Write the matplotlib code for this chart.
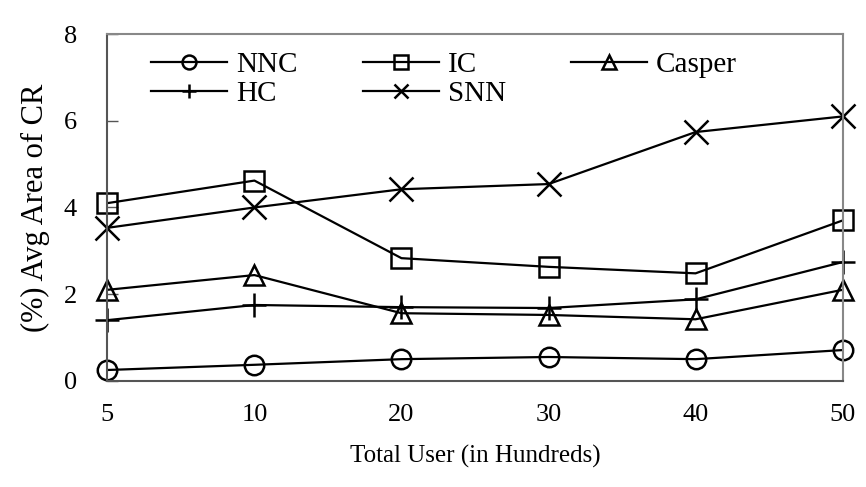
import numpy as np
import matplotlib
matplotlib.use("Agg")
import matplotlib.pyplot as plt

plt.rcParams['font.family'] = ['Liberation Serif', 'DejaVu Serif']

# x categories (hundreds of users)
users = ['5', '10', '20', '30', '40', '50']

nnc = [0.25, 0.37, 0.50, 0.55, 0.50, 0.71]
ic = [4.10, 4.62, 2.83, 2.63, 2.48, 3.70]
casper = [2.10, 2.44, 1.56, 1.52, 1.42, 2.10]
hc = [1.40, 1.75, 1.70, 1.68, 1.88, 2.74]
snn = [3.53, 4.00, 4.42, 4.54, 5.74, 6.10]

series = [('NNC', nnc, 'o'), ('IC', ic, 's'), ('Casper', casper, '^'),
          ('HC', hc, '+'), ('SNN', snn, 'x')]

fig, ax = plt.subplots(figsize=(8.66, 4.87), dpi=100)
fig.subplots_adjust(left=0.124, right=0.973, top=0.930, bottom=0.218)

x = np.arange(len(users))
lines = {}
for name, vals, m in series:
    big = m in ('+', 'x')
    ln, = ax.plot(x, vals, color='black', lw=1.6, marker=m,
                  markersize=17 if big else 14, markerfacecolor='none',
                  markeredgewidth=1.8, clip_on=False, label=name)
    lines[name] = ln

ax.set_xlim(0, len(users) - 1)
ax.set_ylim(0, 8)
ax.set_xticks(x)
ax.set_xticklabels(users)
ax.set_yticks([0, 2, 4, 6, 8])
ax.tick_params(axis='x', length=0, pad=17, labelsize=19)
ax.tick_params(axis='y', direction='in', length=8, width=1, pad=22,
               labelsize=19, colors='#555555', labelcolor='black')

for side in ['top', 'right']:
    ax.spines[side].set_color('#888888')
    ax.spines[side].set_linewidth(1.5)
for side in ['left', 'bottom']:
    ax.spines[side].set_color('#555555')
    ax.spines[side].set_linewidth(1.5)

ax.set_xlabel('Total User (in Hundreds)', fontsize=18, labelpad=13)
ax.set_ylabel('(%) Avg Area of CR', fontsize=22, labelpad=10)

# legend fills column by column, so order gives rows NNC IC Casper / HC SNN
order = ['NNC', 'HC', 'IC', 'SNN', 'Casper']
leg = ax.legend([lines[n] for n in order], order, ncol=3, loc='upper left',
                bbox_to_anchor=(0.034, 1.004), frameon=False, fontsize=21,
                handlelength=2.6, handletextpad=0.3, columnspacing=2.25,
                labelspacing=0.1, borderaxespad=0.25)
for h in leg.legend_handles:
    h.set_markersize(10)

fig.savefig('out.png', dpi=100)
